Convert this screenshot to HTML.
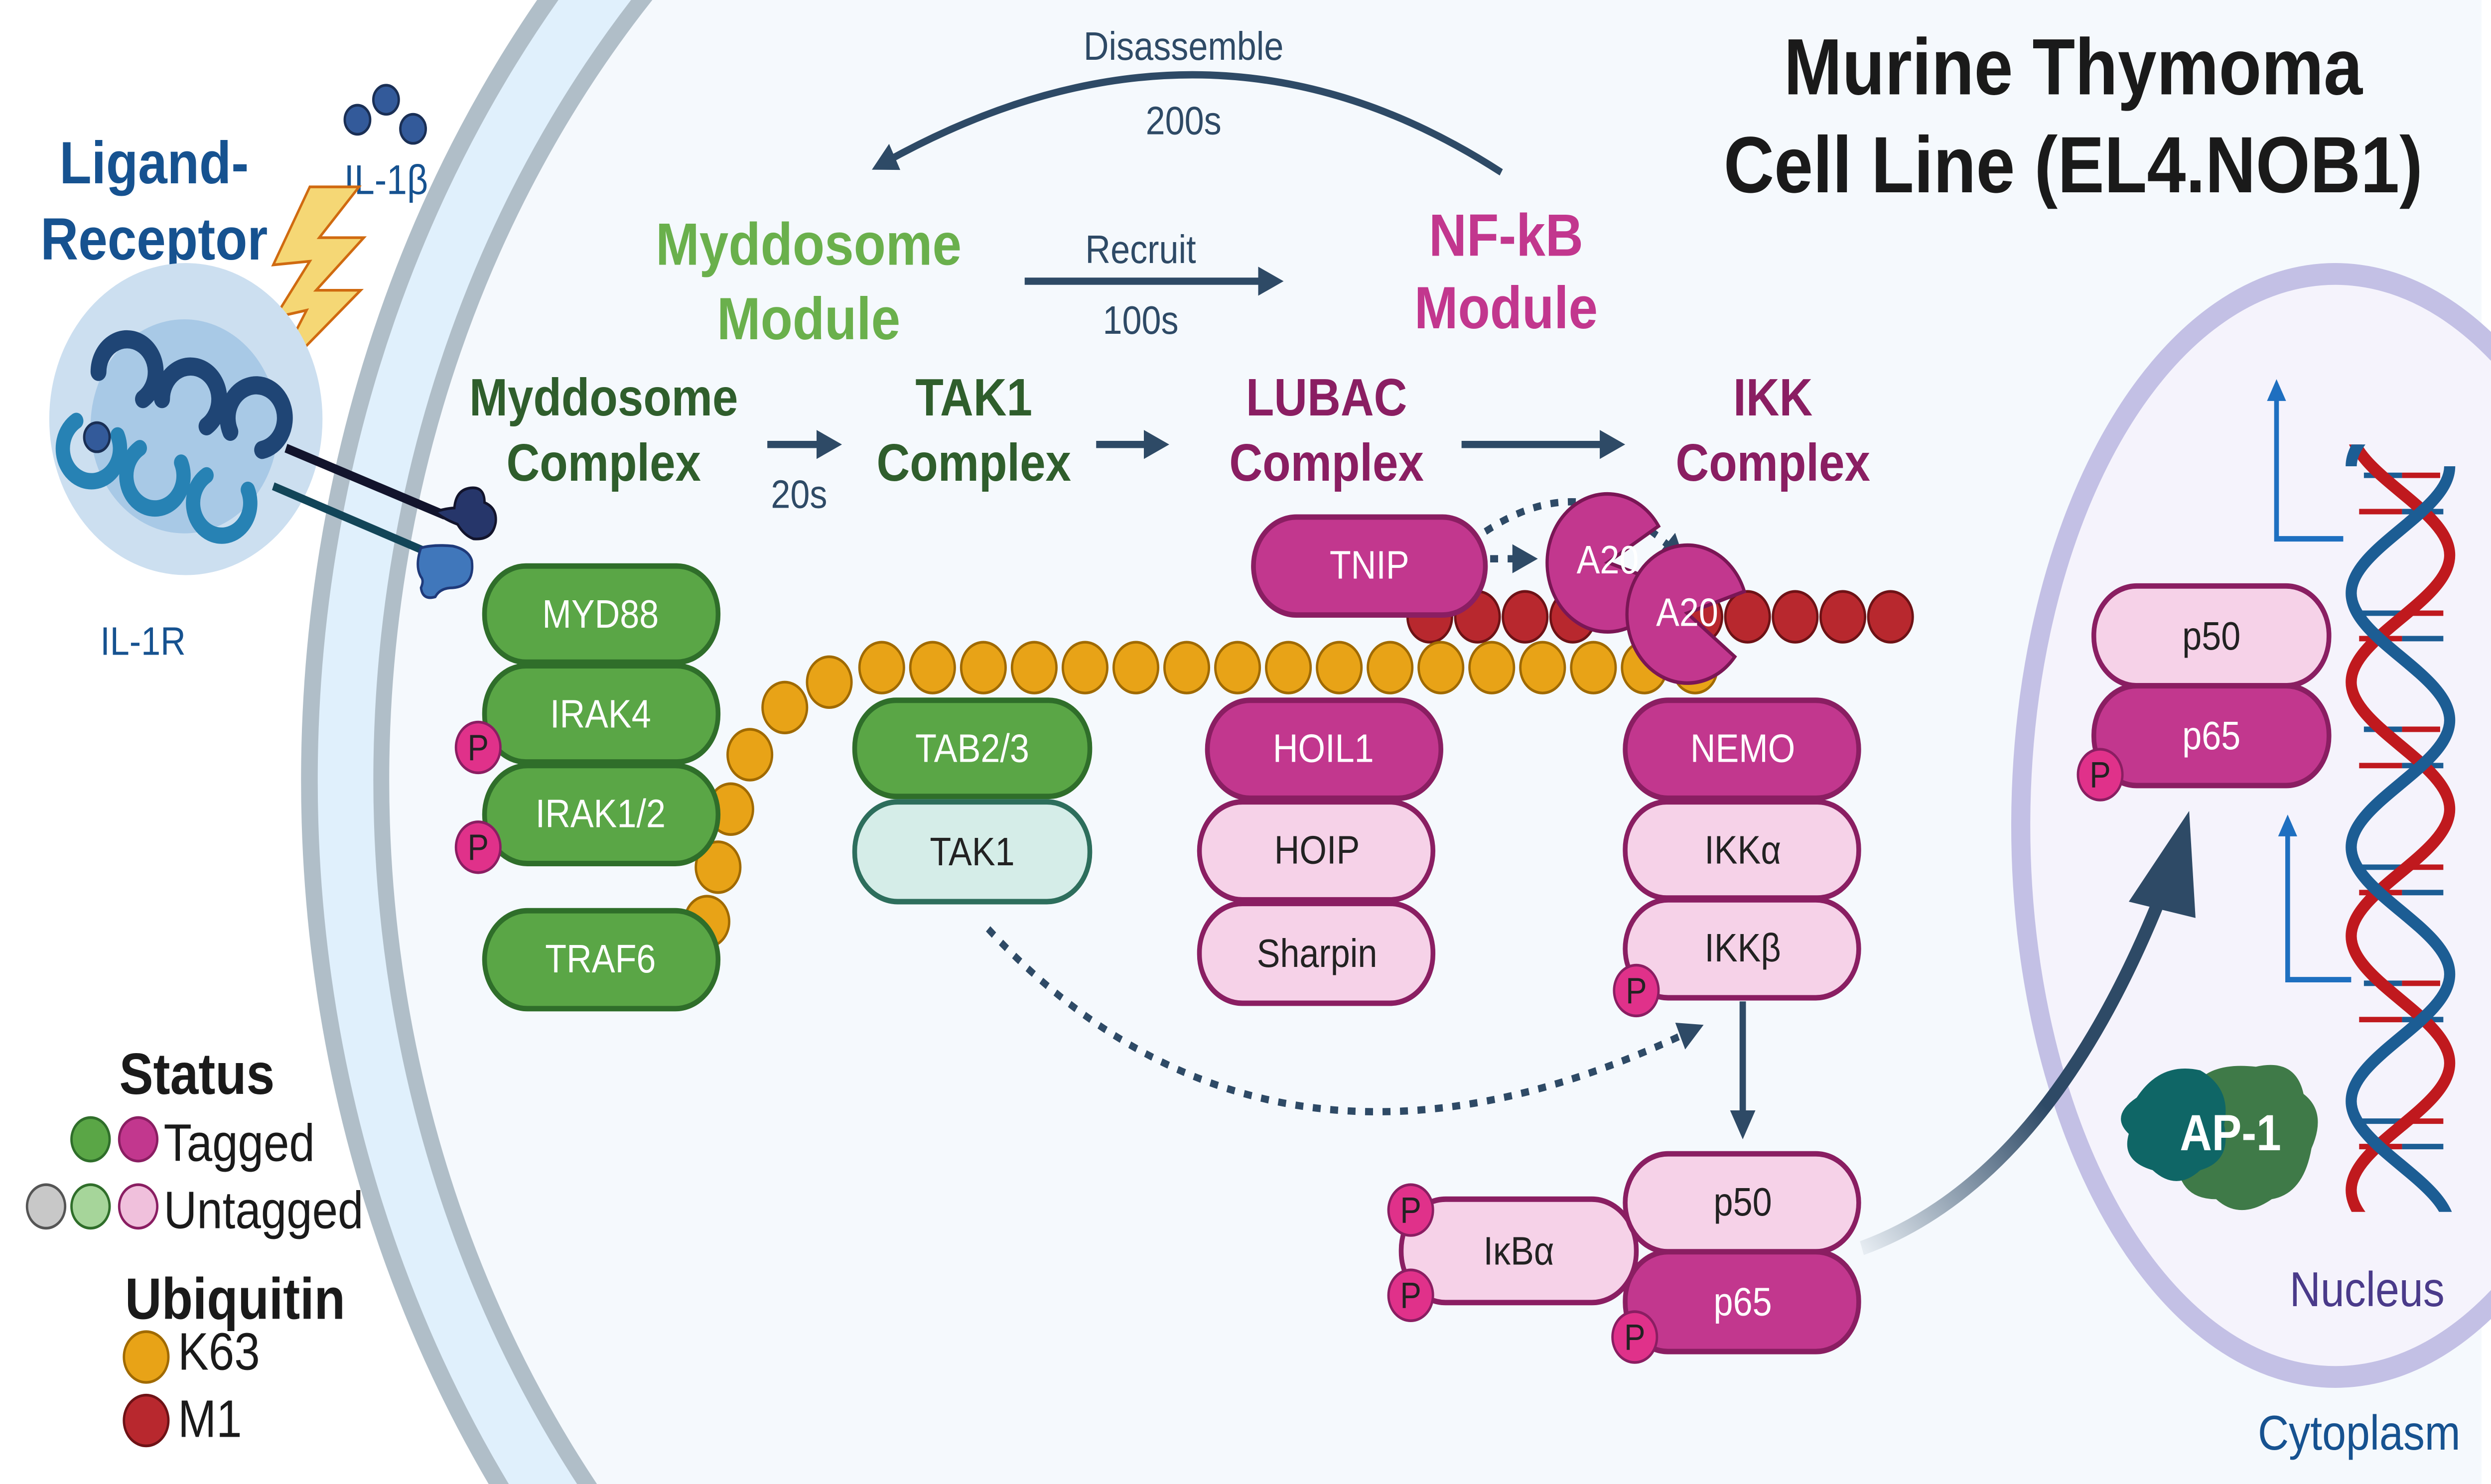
<!DOCTYPE html>
<html><head><meta charset="utf-8"><style>
html,body{margin:0;padding:0;background:#fff;width:100%;height:100%;overflow:hidden;}
svg{display:block;width:100vw;height:100vh;}
text{font-family:"Liberation Sans",sans-serif;}
</style></head><body>
<svg viewBox="0 0 1568 818" preserveAspectRatio="none" xmlns="http://www.w3.org/2000/svg">
<defs>
<marker id="ah" markerWidth="4" markerHeight="4" refX="2" refY="2" orient="auto" markerUnits="strokeWidth"><path d="M0,0 L4,2 L0,4 z" fill="#2e4a66"/></marker>
<marker id="ahb" markerWidth="4" markerHeight="4" refX="2" refY="2" orient="auto" markerUnits="strokeWidth"><path d="M0,0 L4,2 L0,4 z" fill="#1e6fc0"/></marker>
<linearGradient id="bigarr" x1="0" y1="1" x2="1" y2="0"><stop offset="0" stop-color="#e6ecf2"/><stop offset="0.5" stop-color="#2e4a66"/><stop offset="1" stop-color="#2e4a66"/></linearGradient>
<clipPath id="leftclip"><rect x="0" y="0" width="886" height="818"/></clipPath>
<clipPath id="frameclip"><rect x="0" y="0" width="1568" height="818"/></clipPath>
<clipPath id="dnaclip"><rect x="1460" y="245" width="100" height="423"/></clipPath>
</defs>
<rect width="1568" height="818" fill="#fff"/>
<g clip-path="url(#frameclip)">
<rect x="886" y="0" width="676" height="818" fill="#f5f9fd"/>
<g clip-path="url(#leftclip)">
<circle cx="886" cy="430" r="691" fill="#f5f9fd"/>
<circle cx="886" cy="430" r="691" fill="none" stroke="#b0bec8" stroke-width="11"/>
<circle cx="886" cy="430" r="668" fill="none" stroke="#e0f0fc" stroke-width="36"/>
<circle cx="886" cy="430" r="646" fill="none" stroke="#b0bec8" stroke-width="10"/>
<circle cx="886" cy="430" r="640" fill="#f5f9fd"/>
</g>
</g>
<g clip-path="url(#frameclip)">
<ellipse cx="1470" cy="455" rx="198" ry="304" fill="#f5f3fc" stroke="#c3c0e5" stroke-width="12"/>
</g>
<g font-weight="bold" font-size="44" fill="#1a1a1a" text-anchor="middle">
<text x="1305" y="52">Murine Thymoma</text>
<text x="1305" y="106">Cell Line (EL4.NOB1)</text>
</g>
<g>
<text x="97" y="101" font-size="33" font-weight="bold" fill="#165290" text-anchor="middle">Ligand-</text>
<text x="97" y="143" font-size="33" font-weight="bold" fill="#165290" text-anchor="middle">Receptor</text>
<circle cx="225" cy="66" r="8" fill="#335a9a" stroke="#1a2f55" stroke-width="1.5"/>
<circle cx="243" cy="55" r="8" fill="#335a9a" stroke="#1a2f55" stroke-width="1.5"/>
<circle cx="260" cy="71" r="8" fill="#335a9a" stroke="#1a2f55" stroke-width="1.5"/>
<text x="243" y="107" font-size="23" fill="#165290" text-anchor="middle">IL-1β</text>
<polygon points="195,103 226,103 201,131 229,131 199,160 227,160 169,212 193,171 173,175 195,144 172,146" fill="#f5d775" stroke="#d06a10" stroke-width="1.5"/>
<circle cx="117" cy="231" r="86" fill="#ccdff0"/>
<circle cx="116" cy="235" r="59" fill="#a8c9e6"/>
<path d="M62,205 a18,18 0 1 1 28,15 M102,220 a18,18 0 1 1 28,15 M145,238 a18,18 0 1 1 20,10" fill="none" stroke="#1f4575" stroke-width="10" stroke-linecap="round"/>
<path d="M48,232 a18,18 0 1 0 26,8 M88,247 a18,18 0 1 0 26,8 M130,262 a18,18 0 1 0 26,8" fill="none" stroke="#2782b4" stroke-width="9" stroke-linecap="round"/>
<circle cx="61" cy="241" r="8" fill="#335a9a" stroke="#1a2f55" stroke-width="1.5"/>
<line x1="180" y1="247" x2="280" y2="284" stroke="#12142c" stroke-width="5"/>
<line x1="172" y1="268" x2="268" y2="304" stroke="#124558" stroke-width="4.5"/>
<path d="M274,282 q8,-2 12,-2 q1,-10 10,-11 q9,-1 9,8 q8,3 7,11 q-2,10 -14,9 q-6,-2 -10,-8 q-9,-3 -14,-7z" fill="#26366a" stroke="#12142c" stroke-width="1.5"/>
<path d="M265,302 q8,-2 20,-1 q10,2 12,8 q2,14 -12,15 q-8,0 -11,5 q-8,2 -9,-5 q2,-4 0,-6 q-4,-6 0,-16z" fill="#4077bb" stroke="#1f3a7a" stroke-width="1.5"/>
<text x="90" y="361" font-size="22" fill="#165290" text-anchor="middle">IL-1R</text>
</g>
<g font-weight="bold" font-size="33" text-anchor="middle">
<text x="509" y="146" fill="#6ab04c">Myddosome</text>
<text x="509" y="187" fill="#6ab04c">Module</text>
<text x="948" y="141" fill="#c2378e">NF-kB</text>
<text x="948" y="181" fill="#c2378e">Module</text>
</g>
<g font-size="22" fill="#2e4a66" text-anchor="middle">
<text x="718" y="145">Recruit</text>
<text x="718" y="184">100s</text>
<line x1="645" y1="155" x2="800" y2="155" stroke="#2e4a66" stroke-width="4" marker-end="url(#ah)"/>
<text x="745" y="33">Disassemble</text>
<text x="745" y="74">200s</text>
<path d="M945,95 Q760,-10 556,90" fill="none" stroke="#2e4a66" stroke-width="4" marker-end="url(#ah)"/>
<text x="503" y="280">20s</text>
<line x1="483" y1="245" x2="522" y2="245" stroke="#2e4a66" stroke-width="4" marker-end="url(#ah)"/>
<line x1="690" y1="245" x2="728" y2="245" stroke="#2e4a66" stroke-width="4" marker-end="url(#ah)"/>
<line x1="920" y1="245" x2="1015" y2="245" stroke="#2e4a66" stroke-width="4" marker-end="url(#ah)"/>
</g>
<g font-weight="bold" font-size="29" text-anchor="middle">
<text x="380" y="229" fill="#2f5e2c">Myddosome</text><text x="380" y="265" fill="#2f5e2c">Complex</text>
<text x="613" y="229" fill="#2f5e2c">TAK1</text><text x="613" y="265" fill="#2f5e2c">Complex</text>
<text x="835" y="229" fill="#8a1e62">LUBAC</text><text x="835" y="265" fill="#8a1e62">Complex</text>
<text x="1116" y="229" fill="#8a1e62">IKK</text><text x="1116" y="265" fill="#8a1e62">Complex</text>
</g>
<g fill="none" stroke="#2e4a66" stroke-width="4" stroke-dasharray="5,6">
<path d="M622,512 Q800,680 1065,568" marker-end="url(#ah)"/>
<path d="M938,308 L960,308" marker-end="url(#ah)"/>
<path d="M935,293 Q1000,255 1055,305" marker-end="url(#ah)"/>
</g>
<g fill="#b8282e" stroke="#6e1216" stroke-width="1.5">
<circle cx="900" cy="340" r="14"/><circle cx="930" cy="340" r="14"/><circle cx="960" cy="340" r="14"/><circle cx="990" cy="340" r="14"/><circle cx="1070" cy="340" r="14"/><circle cx="1100" cy="340" r="14"/><circle cx="1130" cy="340" r="14"/><circle cx="1160" cy="340" r="14"/><circle cx="1190" cy="340" r="14"/>
</g>
<g fill="#e8a317" stroke="#a06a00" stroke-width="1.5">
<circle cx="445" cy="508" r="14"/><circle cx="452" cy="478" r="14"/><circle cx="460" cy="446" r="14"/><circle cx="472" cy="416" r="14"/><circle cx="494" cy="390" r="14"/><circle cx="522" cy="376" r="14"/>
<circle cx="555" cy="368" r="14"/><circle cx="587" cy="368" r="14"/><circle cx="619" cy="368" r="14"/><circle cx="651" cy="368" r="14"/><circle cx="683" cy="368" r="14"/><circle cx="715" cy="368" r="14"/><circle cx="747" cy="368" r="14"/><circle cx="779" cy="368" r="14"/><circle cx="811" cy="368" r="14"/><circle cx="843" cy="368" r="14"/><circle cx="875" cy="368" r="14"/><circle cx="907" cy="368" r="14"/><circle cx="939" cy="368" r="14"/><circle cx="971" cy="368" r="14"/><circle cx="1003" cy="368" r="14"/><circle cx="1035" cy="368" r="14"/><circle cx="1067" cy="368" r="14"/>
</g>
<g fill="#c2378e" stroke="#7a1655" stroke-width="2">
<path d="M1012,310 L1048,322 A38,38 0 1 1 1044,290 Z"/>
<text x="1012" y="316" font-size="22" fill="#fff" stroke="none" text-anchor="middle">A20</text>
<path d="M1062,338 L1092,362 A38,38 0 1 1 1098,326 Z"/>
<text x="1062" y="345" font-size="22" fill="#fff" stroke="none" text-anchor="middle">A20</text>
</g>
<g font-size="22" text-anchor="middle">
<g><rect x="305" y="312" width="147" height="53" rx="26" fill="#5aa646" stroke="#2f6e2a" stroke-width="3"/><text x="378" y="346" fill="#fff">MYD88</text></g>
<g><rect x="305" y="367" width="147" height="53" rx="26" fill="#5aa646" stroke="#2f6e2a" stroke-width="3"/><text x="378" y="401" fill="#fff">IRAK4</text></g>
<g><rect x="305" y="422" width="147" height="54" rx="27" fill="#5aa646" stroke="#2f6e2a" stroke-width="3"/><text x="378" y="456" fill="#fff">IRAK1/2</text></g>
<g><rect x="305" y="502" width="147" height="54" rx="27" fill="#5aa646" stroke="#2f6e2a" stroke-width="3"/><text x="378" y="536" fill="#fff">TRAF6</text></g>
<g><rect x="538" y="386" width="148" height="53" rx="26" fill="#5aa646" stroke="#2f6e2a" stroke-width="3"/><text x="612" y="420" fill="#fff">TAB2/3</text></g>
<g><rect x="538" y="442" width="148" height="55" rx="27" fill="#d5ede8" stroke="#2d6e5c" stroke-width="3"/><text x="612" y="477" fill="#222">TAK1</text></g>
<g><rect x="789" y="285" width="146" height="54" rx="27" fill="#c2378e" stroke="#8a1e62" stroke-width="3"/><text x="862" y="319" fill="#fff">TNIP</text></g>
<g><rect x="760" y="386" width="147" height="54" rx="27" fill="#c2378e" stroke="#8a1e62" stroke-width="3"/><text x="833" y="420" fill="#fff">HOIL1</text></g>
<g><rect x="755" y="442" width="147" height="54" rx="27" fill="#f6d2e8" stroke="#8a1e62" stroke-width="3"/><text x="829" y="476" fill="#222">HOIP</text></g>
<g><rect x="755" y="498" width="147" height="55" rx="27" fill="#f6d2e8" stroke="#8a1e62" stroke-width="3"/><text x="829" y="533" fill="#222">Sharpin</text></g>
<g><rect x="1023" y="386" width="147" height="54" rx="27" fill="#c2378e" stroke="#8a1e62" stroke-width="3"/><text x="1097" y="420" fill="#fff">NEMO</text></g>
<g><rect x="1023" y="442" width="147" height="53" rx="26" fill="#f6d2e8" stroke="#8a1e62" stroke-width="3"/><text x="1097" y="476" fill="#222">IKKα</text></g>
<g><rect x="1023" y="496" width="147" height="54" rx="27" fill="#f6d2e8" stroke="#8a1e62" stroke-width="3"/><text x="1097" y="530" fill="#222">IKKβ</text></g>
<g><rect x="882" y="661" width="148" height="57" rx="28" fill="#f6d2e8" stroke="#8a1e62" stroke-width="3"/><text x="956" y="697" fill="#222">IκBα</text></g>
<g><rect x="1023" y="636" width="147" height="54" rx="27" fill="#f6d2e8" stroke="#8a1e62" stroke-width="3"/><text x="1097" y="670" fill="#222">p50</text></g>
<g><rect x="1023" y="690" width="147" height="55" rx="27" fill="#c2378e" stroke="#8a1e62" stroke-width="3"/><text x="1097" y="725" fill="#fff">p65</text></g>
<g><rect x="1318" y="323" width="148" height="55" rx="27" fill="#f6d2e8" stroke="#8a1e62" stroke-width="3"/><text x="1392" y="358" fill="#222">p50</text></g>
<g><rect x="1318" y="378" width="148" height="55" rx="27" fill="#c2378e" stroke="#8a1e62" stroke-width="3"/><text x="1392" y="413" fill="#fff">p65</text></g>
</g>
<g fill="#e0318a" stroke="#8a1e62" stroke-width="1.5" font-size="20">
<circle cx="301" cy="412" r="14"/><circle cx="301" cy="467" r="14"/><circle cx="1030" cy="546" r="14"/><circle cx="888" cy="667" r="14"/><circle cx="888" cy="714" r="14"/><circle cx="1029" cy="737" r="14"/><circle cx="1322" cy="427" r="14"/>
<g fill="#222" stroke="none" text-anchor="middle"><text x="301" y="419">P</text><text x="301" y="474">P</text><text x="1030" y="553">P</text><text x="888" y="674">P</text><text x="888" y="721">P</text><text x="1029" y="744">P</text><text x="1322" y="434">P</text></g>
</g>
<line x1="1097" y1="552" x2="1097" y2="620" stroke="#2e4a66" stroke-width="4" marker-end="url(#ah)"/>
<path d="M1172,688 Q1290,650 1362,490" fill="none" stroke="url(#bigarr)" stroke-width="8"/>
<polygon points="1378,447 1382,506 1340,497" fill="#2e4a66"/>
<g clip-path="url(#dnaclip)">
<g stroke-width="3">
<line x1="1488" y1="262" x2="1512" y2="262" stroke="#1c5d94"/><line x1="1512" y1="262" x2="1536" y2="262" stroke="#c0191e"/>
<line x1="1485" y1="282" x2="1512" y2="282" stroke="#c0191e"/><line x1="1512" y1="282" x2="1538" y2="282" stroke="#1c5d94"/>
<line x1="1485" y1="338" x2="1512" y2="338" stroke="#1c5d94"/><line x1="1512" y1="338" x2="1538" y2="338" stroke="#c0191e"/>
<line x1="1485" y1="352" x2="1512" y2="352" stroke="#c0191e"/><line x1="1512" y1="352" x2="1538" y2="352" stroke="#1c5d94"/>
<line x1="1488" y1="402" x2="1512" y2="402" stroke="#1c5d94"/><line x1="1512" y1="402" x2="1536" y2="402" stroke="#c0191e"/>
<line x1="1485" y1="422" x2="1512" y2="422" stroke="#c0191e"/><line x1="1512" y1="422" x2="1538" y2="422" stroke="#1c5d94"/>
<line x1="1485" y1="478" x2="1512" y2="478" stroke="#1c5d94"/><line x1="1512" y1="478" x2="1538" y2="478" stroke="#c0191e"/>
<line x1="1485" y1="492" x2="1512" y2="492" stroke="#c0191e"/><line x1="1512" y1="492" x2="1538" y2="492" stroke="#1c5d94"/>
<line x1="1488" y1="542" x2="1512" y2="542" stroke="#1c5d94"/><line x1="1512" y1="542" x2="1536" y2="542" stroke="#c0191e"/>
<line x1="1485" y1="562" x2="1512" y2="562" stroke="#c0191e"/><line x1="1512" y1="562" x2="1538" y2="562" stroke="#1c5d94"/>
<line x1="1485" y1="618" x2="1512" y2="618" stroke="#1c5d94"/><line x1="1512" y1="618" x2="1538" y2="618" stroke="#c0191e"/>
<line x1="1485" y1="632" x2="1512" y2="632" stroke="#c0191e"/><line x1="1512" y1="632" x2="1538" y2="632" stroke="#1c5d94"/>
</g>
<path fill="none" stroke="#c0191e" stroke-width="7" d="M1480,236 C1480,261 1542,281 1542,306 C1542,331 1480,351 1480,376 C1480,401 1542,421 1542,446 C1542,471 1480,491 1480,516 C1480,541 1542,561 1542,586 C1542,611 1480,631 1480,656 C1480,681 1542,701 1542,726"/>
<path fill="none" stroke="#1c5d94" stroke-width="7" d="M1542,187 C1542,212 1480,232 1480,257 M1542,257 C1542,282 1480,302 1480,327 C1480,352 1542,372 1542,397 C1542,422 1480,442 1480,467 C1480,492 1542,512 1542,537 C1542,562 1480,582 1480,607 C1480,632 1542,652 1542,677"/>
</g>
<g fill="none" stroke="#1e6fc0" stroke-width="3">
<path d="M1475,297 L1433,297 L1433,215" marker-end="url(#ahb)"/>
<path d="M1480,540 L1440,540 L1440,455" marker-end="url(#ahb)"/>
</g>
<g>
<path d="M1380,600 q10,-15 40,-12 q25,-5 30,15 q15,10 5,30 q-5,25 -25,28 q-20,12 -35,0 q-25,0 -25,-25 q-5,-25 10,-36z" fill="#3f7a48"/>
<path d="M1345,605 q15,-20 40,-15 q20,10 15,30 q5,20 -15,25 q-15,12 -30,0 q-20,-5 -15,-20 q-12,-10 5,-20z" fill="#0f6666"/>
<text x="1404" y="634" font-size="28" font-weight="bold" fill="#fff" text-anchor="middle">AP-1</text>
</g>
<text x="1490" y="720" font-size="27" fill="#4a3a8a" text-anchor="middle">Nucleus</text>
<text x="1485" y="799" font-size="27" fill="#165290" text-anchor="middle">Cytoplasm</text>
<g>
<text x="124" y="603" font-size="32" font-weight="bold" fill="#1a1a1a" text-anchor="middle">Status</text>
<circle cx="57" cy="628" r="12" fill="#5aa646" stroke="#2f6e2a" stroke-width="1.5"/><circle cx="87" cy="628" r="12" fill="#c2378e" stroke="#8a1e62" stroke-width="1.5"/>
<text x="103" y="640" font-size="29" fill="#1a1a1a">Tagged</text>
<circle cx="29" cy="665" r="12" fill="#c8c8c8" stroke="#555" stroke-width="1.5"/><circle cx="57" cy="665" r="12" fill="#a6d59a" stroke="#2f6e2a" stroke-width="1.5"/><circle cx="87" cy="665" r="12" fill="#f0c0dc" stroke="#8a1e62" stroke-width="1.5"/>
<text x="103" y="677" font-size="29" fill="#1a1a1a">Untagged</text>
<text x="148" y="727" font-size="32" font-weight="bold" fill="#1a1a1a" text-anchor="middle">Ubiquitin</text>
<circle cx="92" cy="748" r="14" fill="#e8a317" stroke="#a06a00" stroke-width="1.5"/>
<text x="112" y="755" font-size="29" fill="#1a1a1a">K63</text>
<circle cx="92" cy="783" r="14" fill="#b8282e" stroke="#6e1216" stroke-width="1.5"/>
<text x="112" y="792" font-size="29" fill="#1a1a1a">M1</text>
</g>
</svg>
</body></html>
